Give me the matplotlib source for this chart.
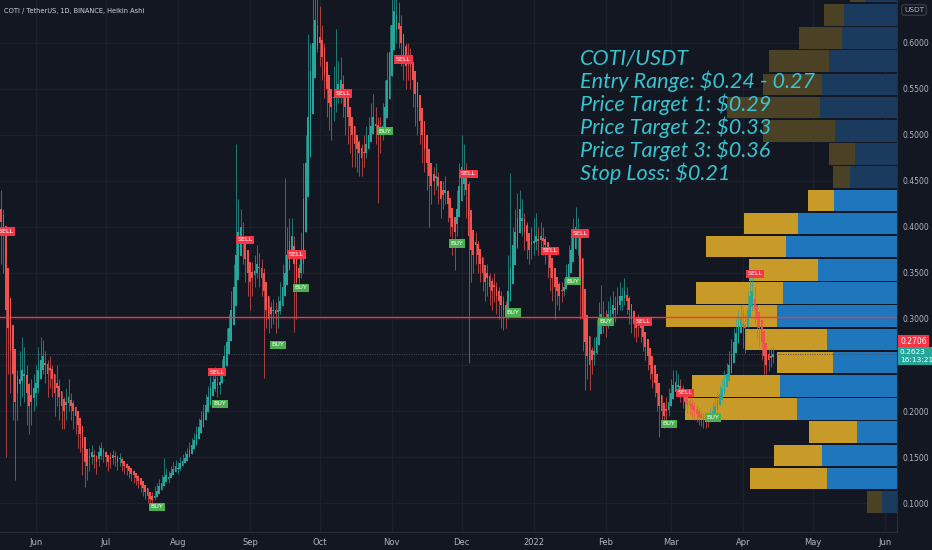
import numpy as np
import pandas as pd
import matplotlib
matplotlib.use("Agg")
import matplotlib.pyplot as plt
import matplotlib.dates as mdates
from matplotlib.transforms import blended_transform_factory

# ------------ Data ------------ #

start = "2021-05-17"
first_open = 0.42

# Heikin Ashi closes, one per day, a week per line
ha_close = [
    0.405, 0.39, 0.31, 0.29, 0.265, 0.24, 0.21,
    0.22, 0.235, 0.245, 0.24, 0.22, 0.205, 0.21,
    0.225, 0.23, 0.245, 0.255, 0.26, 0.25, 0.24,
    0.245, 0.235, 0.22, 0.225, 0.215, 0.205, 0.2,
    0.21, 0.215, 0.205, 0.2, 0.195, 0.185, 0.175,
    0.16, 0.145, 0.14, 0.15, 0.155, 0.15, 0.145,
    0.155, 0.16, 0.155, 0.15, 0.145, 0.148, 0.152,
    0.15, 0.145, 0.148, 0.143, 0.14, 0.138, 0.135,
    0.132, 0.13, 0.127, 0.124, 0.12, 0.116, 0.112,
    0.108, 0.104, 0.103, 0.108, 0.113, 0.118, 0.122,
    0.128, 0.13, 0.128, 0.133, 0.137, 0.14, 0.138,
    0.143, 0.146, 0.149, 0.153, 0.158, 0.163, 0.168,
    0.175, 0.183, 0.19, 0.198, 0.207, 0.215, 0.225,
    0.232, 0.235, 0.228, 0.232, 0.245, 0.26, 0.275,
    0.29, 0.31, 0.335, 0.37, 0.395, 0.40, 0.385,
    0.365, 0.35, 0.34, 0.345, 0.352, 0.36, 0.355,
    0.345, 0.33, 0.31, 0.30, 0.305, 0.31, 0.305,
    0.31, 0.32, 0.335, 0.35, 0.37, 0.385, 0.39,
    0.36, 0.34, 0.345, 0.37, 0.43, 0.47, 0.52,
    0.57, 0.60, 0.625, 0.62, 0.60, 0.585, 0.565,
    0.55, 0.535, 0.53, 0.54, 0.55, 0.555, 0.56,
    0.545, 0.53, 0.52, 0.51, 0.50, 0.49, 0.485,
    0.48, 0.475, 0.48, 0.49, 0.50, 0.51, 0.52,
    0.51, 0.505, 0.50, 0.51, 0.53, 0.56, 0.59,
    0.62, 0.635, 0.63, 0.615, 0.60, 0.585, 0.575,
    0.58, 0.575, 0.56, 0.545, 0.53, 0.515, 0.50,
    0.485, 0.47, 0.455, 0.445, 0.45, 0.455, 0.445,
    0.43, 0.435, 0.44, 0.425, 0.41, 0.40, 0.395,
    0.42, 0.445, 0.465, 0.46, 0.44, 0.39, 0.375,
    0.37, 0.38, 0.37, 0.36, 0.35, 0.34, 0.345,
    0.335, 0.33, 0.335, 0.325, 0.32, 0.315, 0.31,
    0.305, 0.33, 0.355, 0.38, 0.395, 0.41, 0.42,
    0.41, 0.395, 0.385, 0.375, 0.38, 0.385, 0.39,
    0.385, 0.39, 0.385, 0.38, 0.37, 0.355, 0.345,
    0.335, 0.33, 0.325, 0.33, 0.335, 0.345, 0.36,
    0.375, 0.39, 0.40, 0.395, 0.34, 0.30, 0.275,
    0.26, 0.25, 0.255, 0.265, 0.28, 0.295, 0.305,
    0.30, 0.295, 0.305, 0.31, 0.315, 0.31, 0.32,
    0.325, 0.325, 0.33, 0.32, 0.31, 0.30, 0.295,
    0.29, 0.292, 0.29, 0.28, 0.27, 0.26, 0.25,
    0.24, 0.23, 0.22, 0.205, 0.20, 0.195, 0.20,
    0.21, 0.22, 0.228, 0.232, 0.228, 0.222, 0.215,
    0.21, 0.207, 0.205, 0.202, 0.2, 0.197, 0.194,
    0.192, 0.19, 0.188, 0.19, 0.195, 0.2, 0.205,
    0.212, 0.218, 0.225, 0.233, 0.24, 0.25, 0.262,
    0.275, 0.285, 0.295, 0.30, 0.295, 0.29, 0.31,
    0.325, 0.33, 0.31, 0.30, 0.29, 0.275, 0.26,
    0.25, 0.255, 0.258, 0.262,
]

ha_high = [
    0.44, 0.42, 0.40, 0.335, 0.30, 0.28, 0.25,
    0.245, 0.265, 0.28, 0.27, 0.25, 0.23, 0.235,
    0.24, 0.25, 0.27, 0.28, 0.277, 0.265, 0.255,
    0.26, 0.25, 0.24, 0.25, 0.235, 0.22, 0.215,
    0.225, 0.235, 0.22, 0.212, 0.205, 0.2, 0.19,
    0.178, 0.16, 0.152, 0.16, 0.163, 0.158, 0.152,
    0.163, 0.166, 0.16, 0.156, 0.152, 0.155, 0.158,
    0.156, 0.152, 0.154, 0.15, 0.146, 0.143, 0.14,
    0.138, 0.136, 0.133, 0.13, 0.126, 0.122, 0.118,
    0.114, 0.11, 0.112, 0.118, 0.122, 0.126, 0.13,
    0.149, 0.138, 0.135, 0.14, 0.145, 0.147, 0.145,
    0.15, 0.153, 0.156, 0.16, 0.166, 0.171, 0.176,
    0.184, 0.192, 0.2, 0.208, 0.218, 0.227, 0.238,
    0.245, 0.248, 0.238, 0.242, 0.256, 0.272, 0.29,
    0.305, 0.33, 0.36, 0.49, 0.43, 0.42, 0.405,
    0.39, 0.375, 0.36, 0.362, 0.37, 0.38, 0.372,
    0.365, 0.355, 0.335, 0.318, 0.318, 0.322, 0.318,
    0.325, 0.34, 0.36, 0.453, 0.40, 0.41, 0.41,
    0.39, 0.37, 0.36, 0.395, 0.47, 0.50, 0.61,
    0.60, 0.66, 0.68, 0.665, 0.64, 0.62, 0.60,
    0.58, 0.56, 0.55, 0.575, 0.615, 0.58, 0.585,
    0.565, 0.55, 0.545, 0.53, 0.52, 0.51, 0.50,
    0.495, 0.49, 0.50, 0.51, 0.52, 0.535, 0.545,
    0.53, 0.52, 0.52, 0.535, 0.56, 0.59, 0.62,
    0.66, 0.68, 0.665, 0.645, 0.63, 0.61, 0.60,
    0.60, 0.595, 0.58, 0.565, 0.55, 0.535, 0.52,
    0.50, 0.49, 0.475, 0.46, 0.465, 0.47, 0.46,
    0.45, 0.45, 0.455, 0.44, 0.425, 0.415, 0.405,
    0.44, 0.47, 0.50, 0.49, 0.47, 0.45, 0.40,
    0.39, 0.395, 0.385, 0.375, 0.365, 0.355, 0.36,
    0.35, 0.345, 0.35, 0.34, 0.335, 0.33, 0.325,
    0.32, 0.37, 0.459, 0.40, 0.42, 0.437, 0.44,
    0.43, 0.415, 0.405, 0.39, 0.40, 0.41, 0.415,
    0.40, 0.405, 0.40, 0.39, 0.38, 0.37, 0.36,
    0.35, 0.345, 0.34, 0.34, 0.345, 0.36, 0.38,
    0.395, 0.41, 0.422, 0.41, 0.39, 0.34, 0.30,
    0.285, 0.27, 0.27, 0.28, 0.30, 0.318, 0.337,
    0.32, 0.31, 0.32, 0.325, 0.33, 0.325, 0.335,
    0.34, 0.335, 0.345, 0.335, 0.325, 0.315, 0.31,
    0.30, 0.305, 0.30, 0.295, 0.285, 0.275, 0.265,
    0.255, 0.245, 0.235, 0.225, 0.215, 0.21, 0.215,
    0.225, 0.235, 0.245, 0.245, 0.24, 0.235, 0.228,
    0.222, 0.218, 0.215, 0.212, 0.21, 0.206, 0.203,
    0.20, 0.198, 0.196, 0.198, 0.203, 0.21, 0.215,
    0.222, 0.228, 0.236, 0.245, 0.252, 0.265, 0.278,
    0.29, 0.30, 0.31, 0.315, 0.31, 0.305, 0.33,
    0.345, 0.35, 0.335, 0.315, 0.305, 0.29, 0.275,
    0.265, 0.268, 0.27, 0.271,
]

ha_low = [
    0.36, 0.35, 0.15, 0.24, 0.22, 0.19, 0.125,
    0.19, 0.205, 0.215, 0.21, 0.185, 0.175, 0.185,
    0.20, 0.205, 0.22, 0.235, 0.24, 0.23, 0.215,
    0.225, 0.215, 0.195, 0.205, 0.19, 0.18, 0.18,
    0.19, 0.20, 0.19, 0.18, 0.175, 0.16, 0.155,
    0.13, 0.117, 0.125, 0.135, 0.142, 0.138, 0.132,
    0.14, 0.148, 0.145, 0.14, 0.135, 0.138, 0.142,
    0.14, 0.136, 0.14, 0.135, 0.132, 0.13, 0.127,
    0.124, 0.122, 0.12, 0.116, 0.112, 0.108, 0.104,
    0.10, 0.097, 0.098, 0.103, 0.108, 0.112, 0.116,
    0.12, 0.124, 0.122, 0.127, 0.131, 0.134, 0.132,
    0.136, 0.14, 0.143, 0.147, 0.152, 0.157, 0.162,
    0.168, 0.176, 0.183, 0.19, 0.20, 0.207, 0.216,
    0.222, 0.222, 0.215, 0.218, 0.235, 0.25, 0.265,
    0.278, 0.295, 0.318, 0.34, 0.37, 0.375, 0.36,
    0.34, 0.325, 0.31, 0.325, 0.335, 0.345, 0.335,
    0.325, 0.236, 0.29, 0.285, 0.29, 0.295, 0.285,
    0.29, 0.305, 0.32, 0.335, 0.35, 0.368, 0.37,
    0.286, 0.30, 0.33, 0.345, 0.35, 0.43, 0.47,
    0.52, 0.56, 0.59, 0.59, 0.575, 0.56, 0.54,
    0.52, 0.505, 0.495, 0.515, 0.525, 0.535, 0.535,
    0.52, 0.50, 0.49, 0.48, 0.465, 0.465, 0.46,
    0.455, 0.455, 0.465, 0.475, 0.485, 0.495, 0.505,
    0.49, 0.426, 0.48, 0.495, 0.515, 0.54, 0.57,
    0.59, 0.60, 0.60, 0.595, 0.575, 0.56, 0.55,
    0.56, 0.55, 0.53, 0.51, 0.50, 0.49, 0.47,
    0.46, 0.44, 0.40, 0.425, 0.435, 0.44, 0.425,
    0.41, 0.42, 0.425, 0.405, 0.39, 0.37, 0.353,
    0.39, 0.415, 0.44, 0.435, 0.41, 0.252, 0.34,
    0.35, 0.36, 0.35, 0.34, 0.33, 0.32, 0.325,
    0.315, 0.31, 0.318, 0.305, 0.30, 0.29, 0.288,
    0.29, 0.30, 0.32, 0.35, 0.375, 0.39, 0.40,
    0.39, 0.375, 0.365, 0.36, 0.365, 0.37, 0.375,
    0.37, 0.375, 0.37, 0.36, 0.345, 0.33, 0.32,
    0.30, 0.315, 0.31, 0.318, 0.325, 0.335, 0.35,
    0.36, 0.375, 0.385, 0.37, 0.30, 0.265, 0.223,
    0.235, 0.223, 0.24, 0.25, 0.262, 0.28, 0.29,
    0.285, 0.28, 0.29, 0.298, 0.30, 0.297, 0.305,
    0.31, 0.31, 0.315, 0.305, 0.295, 0.285, 0.28,
    0.275, 0.28, 0.275, 0.265, 0.255, 0.245, 0.235,
    0.225, 0.215, 0.20, 0.172, 0.185, 0.182, 0.19,
    0.195, 0.205, 0.215, 0.22, 0.215, 0.21, 0.203,
    0.20, 0.198, 0.196, 0.193, 0.19, 0.188, 0.185,
    0.184, 0.182, 0.181, 0.183, 0.188, 0.193, 0.198,
    0.205, 0.21, 0.217, 0.225, 0.232, 0.242, 0.253,
    0.265, 0.272, 0.28, 0.285, 0.268, 0.263, 0.29,
    0.305, 0.31, 0.295, 0.28, 0.27, 0.255, 0.24,
    0.24, 0.243, 0.248, 0.252,
]

sell_dates = ["2021-05-19", "2021-08-18", "2021-08-30", "2021-09-21", "2021-10-11",
              "2021-11-06", "2021-12-04", "2022-01-08", "2022-01-21", "2022-02-17",
              "2022-03-07", "2022-04-06"]
sell_prices = [0.395, 0.242, 0.386, 0.370, 0.545, 0.582, 0.458, 0.374, 0.393, 0.297,
               0.220, 0.349]
buy_dates = ["2021-07-23", "2021-08-19", "2021-09-13", "2021-09-23", "2021-10-29",
             "2021-11-29", "2021-12-23", "2022-01-18", "2022-02-01", "2022-02-28",
             "2022-03-19"]
buy_prices = [0.096, 0.208, 0.272, 0.334, 0.504, 0.382, 0.307, 0.341, 0.297, 0.186,
              0.193]

# volume profile, rows from the bottom up
vp_bottom = 0.0888
vp_step = 0.0252
vol_blue = [15, 70, 75, 40, 100, 117, 64, 70, 120, 114, 79, 111, 99, 63, 47, 42,
            62, 77, 75, 68, 55, 53, 32]
vol_yellow = [15, 77, 48, 48, 112, 88, 56, 82, 111, 87, 69, 80, 54, 26, 17, 26,
              72, 93, 59, 60, 43, 20, 15]
value_area = (1, 13)

price_ticks = [0.10, 0.15, 0.20, 0.30, 0.35, 0.40, 0.45, 0.50, 0.55, 0.60]
grid_prices = [0.10, 0.15, 0.20, 0.25, 0.30, 0.35, 0.40, 0.45, 0.50, 0.55, 0.60]
red_level = 0.3022
last_price = 0.2623
mark_price = 0.2706
countdown = "16:13:21"

info = ("COTI/USDT\nEntry Range: $0.24 - 0.27\nPrice Target 1: $0.29\n"
        "Price Target 2: $0.33\nPrice Target 3: $0.36\nStop Loss: $0.21")

# ------------ Style ------------ #

bg = "#131722"
grid_c = "#1c202b"
axis_txt = "#b2b5be"
up_c = "#26a69a"
down_c = "#ef5350"
ymin, ymax = 0.0685, 0.6467

fig = plt.figure(figsize=(9.32, 5.5), dpi=100, facecolor=bg)
pos = [0, 18 / 550, 897 / 932, 532 / 550]

dates = pd.date_range(start, periods=len(ha_close))
x = mdates.date2num(dates)
month_starts = mdates.date2num(pd.date_range("2021-06-01", "2022-06-01", freq="MS"))

# profile axes below, candle axes on top
ax_vp = fig.add_axes(pos)
ax = fig.add_axes(pos)
ax.set_xlim(x[0] - 0.47, x[0] + 385.2)
ax.set_ylim(ymin, ymax)

# ------------ Volume profile (bottom layer) ------------ #

ax_vp.set_facecolor(bg)
ax_vp.set_xlim(897, 0)
ax_vp.set_ylim(ymin, ymax)
for p in grid_prices:
    ax_vp.axhline(p, color=grid_c, lw=0.9, zorder=0)
vtr = blended_transform_factory(ax.transData, ax_vp.transAxes)
for xv in month_starts:
    ax_vp.plot([xv, xv], [0, 1], color=grid_c, lw=0.9, transform=vtr, zorder=0)

idx = np.arange(len(vol_blue))
rows = vp_bottom + vp_step * idx + vp_step / 2
bright = (idx >= value_area[0]) & (idx <= value_area[1])
blue_cols = np.where(bright, "#1e77bd", "#1a3b5e")
yel_cols = np.where(bright, "#c89a28", "#4b4125")
ax_vp.barh(rows, vol_blue, height=vp_step * 0.93, left=0, color=blue_cols, zorder=2)
ax_vp.barh(rows, vol_yellow, height=vp_step * 0.93, left=vol_blue, color=yel_cols, zorder=2)
ax_vp.axis("off")

# ------------ Candles (top layer) ------------ #

ax.set_facecolor("none")

close = np.array(ha_close)
opens = np.empty_like(close)
opens[0] = first_open
for i in range(1, len(close)):
    opens[i] = (opens[i - 1] + close[i - 1]) / 2
hi = np.maximum(np.array(ha_high), np.maximum(opens, close))
lo = np.minimum(np.array(ha_low), np.minimum(opens, close))
cols = np.where(close >= opens, up_c, down_c)

ax.vlines(x, lo, hi, colors=cols, lw=0.6, alpha=0.8, zorder=3)
ax.bar(x, np.maximum(np.abs(close - opens), 0.0015), bottom=np.minimum(opens, close),
       width=0.75, color=cols, lw=0, zorder=4)

ax.axhline(last_price, color="#4a4e5a", lw=0.7, ls=(0, (1, 1.5)), zorder=2)
ax.axhline(red_level, color="#f23645", lw=1.0, zorder=5)

for d, p in zip(sell_dates, sell_prices):
    ax.text(mdates.date2num(pd.Timestamp(d)), p, "SELL", ha="center", va="center",
            fontsize=4.6, color="white", zorder=6,
            bbox=dict(boxstyle="square,pad=0.25", fc="#f23645", ec="none"))
for d, p in zip(buy_dates, buy_prices):
    ax.text(mdates.date2num(pd.Timestamp(d)), p, "BUY", ha="center", va="center",
            fontsize=4.6, color="white", zorder=6,
            bbox=dict(boxstyle="square,pad=0.25", fc="#4caf50", ec="none"))

ax.xaxis.set_major_locator(mdates.MonthLocator())
ax.xaxis.set_major_formatter(plt.FuncFormatter(
    lambda v, pos: str(mdates.num2date(v).year) if mdates.num2date(v).month == 1
    else mdates.num2date(v).strftime("%b")))
ax.tick_params(axis="x", colors=axis_txt, labelsize=6, length=0, pad=4)

ax.yaxis.tick_right()
ax.set_yticks(price_ticks)
ax.set_yticklabels([f"{p:.4f}" for p in price_ticks])
ax.tick_params(axis="y", colors=axis_txt, labelsize=5.5, length=0, pad=4)

for s in ["top", "left"]:
    ax.spines[s].set_visible(False)
for s in ["right", "bottom"]:
    ax.spines[s].set_color("#2a2e39")

# price tags on the right scale
tr = blended_transform_factory(ax.transAxes, ax.transData)
ax.annotate(f"{mark_price:.4f}", xy=(1.0, mark_price), xycoords=tr, xytext=(2.2, 3),
            textcoords="offset points", ha="left", va="center", fontsize=5.5,
            color="white", annotation_clip=False,
            bbox=dict(boxstyle="square,pad=0.3", fc="#f23645", ec="none"))
ax.annotate(f"{last_price:.4f}\n{countdown}", xy=(1.0, last_price), xycoords=tr,
            xytext=(2.0, 3.5), textcoords="offset points", ha="left", va="top",
            fontsize=5.3, color="white", annotation_clip=False, linespacing=1.35,
            bbox=dict(boxstyle="square,pad=0.3", fc="#26a69a", ec="none"))

# ------------ Texts ------------ #

fig.text(4 / 932, 1 - 11 / 550, "COTI / TetherUS, 1D, BINANCE, Heikin Ashi",
         fontsize=4.8, color="#d1d4dc", va="center", ha="left")
fig.text(914 / 932, 1 - 10 / 550, "USDT", fontsize=5.3, color=axis_txt,
         ha="center", va="center",
         bbox=dict(boxstyle="round,pad=0.3", fc=bg, ec="#434651", lw=0.7))
fig.text(580 / 932, 1 - 49 / 550, info, fontsize=15.6, style="italic",
         color="#38c3cf", ha="left", va="top", linespacing=1.08, family="Lato")

fig.savefig("out.png", dpi=100, facecolor=bg)
